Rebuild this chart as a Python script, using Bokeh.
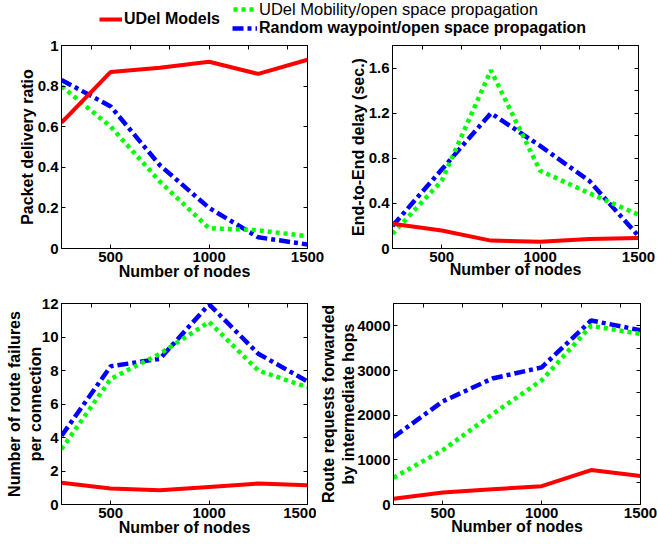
from bokeh.plotting import figure
from bokeh.layouts import column, row
from bokeh.models import FixedTicker, LinearAxis, Legend, LegendItem, Range1d
from bokeh.embed import file_html
from bokeh.resources import INLINE

# ---------------- data ----------------
nodes = [250, 500, 750, 1000, 1250, 1500]
series_names = ["UDel Models",
                "UDel Mobility/open space propagation",
                "Random waypoint/open space propagation"]
series_colors = ["#ff0000", "#00ff00", "#0000ff"]

pdr_udel = [0.62, 0.87, 0.89, 0.92, 0.86, 0.93]
pdr_mob = [0.80, 0.60, 0.33, 0.10, 0.09, 0.06]
pdr_rwp = [0.83, 0.70, 0.41, 0.20, 0.055, 0.02]

delay_udel = [0.22, 0.16, 0.07, 0.06, 0.085, 0.093]
delay_mob = [0.13, 0.60, 1.58, 0.69, 0.49, 0.30]
delay_rwp = [0.20, 0.70, 1.20, 0.91, 0.60, 0.11]

fail_udel = [1.3, 0.95, 0.85, 1.05, 1.25, 1.15]
fail_mob = [3.3, 7.5, 9.0, 10.9, 8.0, 7.0]
fail_rwp = [4.1, 8.25, 8.7, 11.95, 9.0, 7.35]

rreq_udel = [130, 270, 340, 410, 770, 640]
rreq_mob = [600, 1220, 2020, 2780, 4000, 3820]
rreq_rwp = [1510, 2310, 2820, 3070, 4120, 3900]

x_ticks = [500, 1000, 1500]
x_top_ticks = [400, 600, 800, 1000, 1200, 1400]

y1_ticks = [0, 0.2, 0.4, 0.6, 0.8, 1.0]
y1_labels = ["0", "0.2", "0.4", "0.6", "0.8", "1"]
y2_ticks = [0, 0.4, 0.8, 1.2, 1.6]
y2_labels = ["0", "0.4", "0.8", "1.2", "1.6"]
y2_right = [0.2, 0.4, 0.6, 0.8, 1.0, 1.2, 1.4, 1.6]
y3_ticks = [0, 2, 4, 6, 8, 10, 12]
y3_labels = ["0", "2", "4", "6", "8", "10", "12"]
y4_ticks = [0, 1000, 2000, 3000, 4000]
y4_labels = ["0", "1000", "2000", "3000", "4000"]
y4_right = [500, 1000, 1500, 2000, 2500, 3000, 3500, 4000]

FONT = "Liberation Sans"


def tick_only_axis(ticks):
    return LinearAxis(ticker=FixedTicker(ticks=ticks),
                      major_label_text_font_size="1px",
                      major_label_text_color=None,
                      major_tick_in=4, major_tick_out=0,
                      minor_tick_in=0, minor_tick_out=0,
                      major_label_standoff=0, axis_line_color="black")


def panel(w, h, left, right, top, bottom, ymax, yticks, ylabels, yright,
          ylabel, ylabel_standoff, xlabel_standoff, ys):
    p = figure(width=w, height=h, output_backend="svg", toolbar_location=None,
               title=None,
               x_range=Range1d(250, 1500), y_range=Range1d(0, ymax),
               min_border_left=left, min_border_right=right,
               min_border_top=top, min_border_bottom=bottom)
    p.grid.visible = False
    p.outline_line_color = "black"
    p.outline_line_width = 1
    p.background_fill_color = "white"
    p.border_fill_color = "white"

    for ax in (p.xaxis[0], p.yaxis[0]):
        ax.major_tick_in = 4
        ax.major_tick_out = 0
        ax.minor_tick_in = 0
        ax.minor_tick_out = 0
        ax.axis_line_color = "black"
        ax.major_tick_line_color = "black"
        ax.major_label_text_font = FONT
        ax.major_label_text_font_style = "bold"
        ax.major_label_text_font_size = "15px"
        ax.major_label_text_color = "black"
        ax.axis_label_text_font = FONT
        ax.axis_label_text_font_style = "bold"
        ax.axis_label_text_font_size = "16px"
        ax.axis_label_text_color = "black"

    p.xaxis.ticker = FixedTicker(ticks=x_ticks)
    p.xaxis.axis_label = "Number of nodes"
    p.xaxis.major_label_standoff = 3
    p.xaxis.axis_label_standoff = xlabel_standoff

    p.yaxis.ticker = FixedTicker(ticks=yticks)
    p.yaxis.major_label_overrides = {t: s for t, s in zip(yticks, ylabels)}
    p.yaxis.axis_label = ylabel
    p.yaxis.major_label_standoff = 3
    p.yaxis.axis_label_standoff = ylabel_standoff

    p.add_layout(tick_only_axis(x_top_ticks), "above")
    p.add_layout(tick_only_axis(yright), "right")

    y_udel, y_mob, y_rwp = ys
    p.line(nodes, y_rwp, color=series_colors[2], line_width=4.5,
           line_dash="11 4 4 4")
    p.line(nodes, y_mob, color=series_colors[1], line_width=4.5,
           line_dash="4 4")
    p.line(nodes, y_udel, color=series_colors[0], line_width=4)
    return p


f1 = panel(330, 249, 61, 23, 9, 37, 1.0, y1_ticks, y1_labels, y1_ticks,
           "Packet delivery ratio", -1, -2, (pdr_udel, pdr_mob, pdr_rwp))
f2 = panel(327, 249, 62, 19, 9, 34, 1.8, y2_ticks, y2_labels, y2_right,
           "End-to-End delay (sec.)", -1, -4,
           (delay_udel, delay_mob, delay_rwp))
f3 = panel(316, 259, 61, 9, 12, 40, 12, y3_ticks, y3_labels, y3_ticks,
           "Number of route failures\nper connection", -5, -2,
           (fail_udel, fail_mob, fail_rwp))
f4 = panel(341, 259, 76, 17, 18, 35, 4500, y4_ticks, y4_labels, y4_right,
           "Route requests forwarded\nby intermediate hops", -3, -3,
           (rreq_udel, rreq_mob, rreq_rwp))

# ---------------- legend strip ----------------
leg = figure(width=657, height=36, output_backend="svg", toolbar_location=None,
             title=None,
             x_range=Range1d(0, 657), y_range=Range1d(0, 36),
             x_axis_type=None, y_axis_type=None, min_border=0)
leg.grid.visible = False
leg.outline_line_color = None

nan = float("nan")
r_u = leg.line([0], [nan], color=series_colors[0], line_width=4)
r_m = leg.line([0], [nan], color=series_colors[1], line_width=4.5,
               line_dash="4 4")
r_r = leg.line([0], [nan], color=series_colors[2], line_width=4.5,
               line_dash="11 4 4 4")


def make_legend(name, rend, loc, size, style, gw):
    return Legend(items=[LegendItem(label=name, renderers=[rend])],
                  location=loc, padding=0, margin=0, spacing=0,
                  border_line_alpha=0, background_fill_alpha=0,
                  glyph_width=gw, glyph_height=14, label_height=14,
                  label_standoff=2, label_text_font=FONT,
                  label_text_font_size=size, label_text_font_style=style,
                  label_text_color="black")


leg.add_layout(make_legend(series_names[0], r_u, (99, 8), "16px", "bold", 23))
leg.add_layout(make_legend(series_names[1], r_m, (233, 17.5), "16.5px", "normal", 24))
leg.add_layout(make_legend(series_names[2], r_r, (232, -1), "16px", "bold", 25))

layout = column(leg, row(f1, f2), row(f3, f4))

open("out.html", "w").write(file_html(layout, INLINE))
